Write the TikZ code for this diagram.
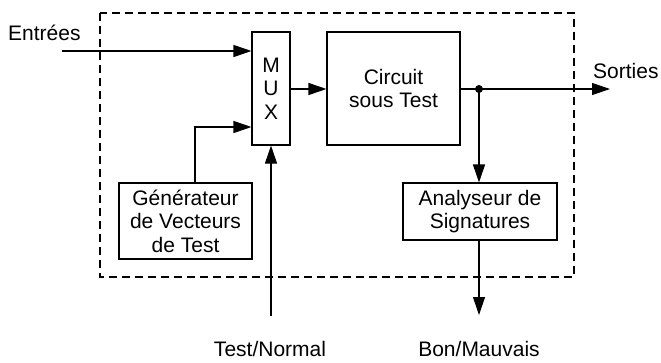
\documentclass[tikz,border=0pt]{standalone}
\usepackage{fontspec}
\setmainfont{Liberation Sans}
\usetikzlibrary{arrows.meta}
\begin{document}
\begin{tikzpicture}[x=1pt,y=-1pt,
  every node/.style={font=\fontsize{21}{23.5}\selectfont},
  blk/.style={draw,line width=1.1pt,inner sep=0pt,align=center},
  wire/.style={line width=1.1pt},
  arr/.style={wire,-{Triangle[length=18pt,width=12pt]}},
  lbl/.style={inner sep=0pt,align=center}]
\useasboundingbox (0,0) rectangle (661,362);
% dashed enclosure
\draw[line width=1.1pt,dash pattern=on 8pt off 5pt] (100,13) rectangle (574,277);
% blocks
\node[blk,minimum width=38pt,minimum height=113pt] (mux) at (271,88.5) {M\\U\\X};
\node[blk,minimum width=133pt,minimum height=113pt] (cut) at (393.5,88.5) {Circuit\\sous Test};
\node[blk,minimum width=133pt,minimum height=76pt] (gen) at (185.5,221) {Générateur\\de Vecteurs\\de Test};
\node[blk,minimum width=154pt,minimum height=57pt] (ana) at (480,211.5) {Analyseur de\\Signatures};
% labels
\node[lbl,anchor=base west] (ent) at (8,40) {Entrées};
\node[lbl,anchor=base west] (sor) at (593,78) {Sorties};
\node[lbl,anchor=base] (tn) at (270,356) {Test/Normal};
\node[lbl,anchor=base] (bm) at (479,356) {Bon/Mauvais};
% coordinates
\coordinate (inE) at (62,51);
\coordinate (outS) at (610,89);
\coordinate (tnS) at (271,316);
\coordinate (bmE) at (479,315);
\coordinate (dot) at (479,89);
% connectors
\draw[arr] (inE) -- (inE -| mux.west);
\draw[arr] (gen.north -| 195,0) |- (mux.west |- 0,127);
\draw[arr] (mux.east |- 0,89) -- (cut.west |- 0,89);
\draw[arr] (cut.east |- 0,89) -- (outS);
\draw[arr] (dot) -- (dot |- ana.north);
\draw[arr] (ana.south -| bmE) -- (bmE);
\draw[arr] (tnS) -- (tnS |- mux.south);
\fill (dot) circle (4pt);
\end{tikzpicture}
\end{document}
